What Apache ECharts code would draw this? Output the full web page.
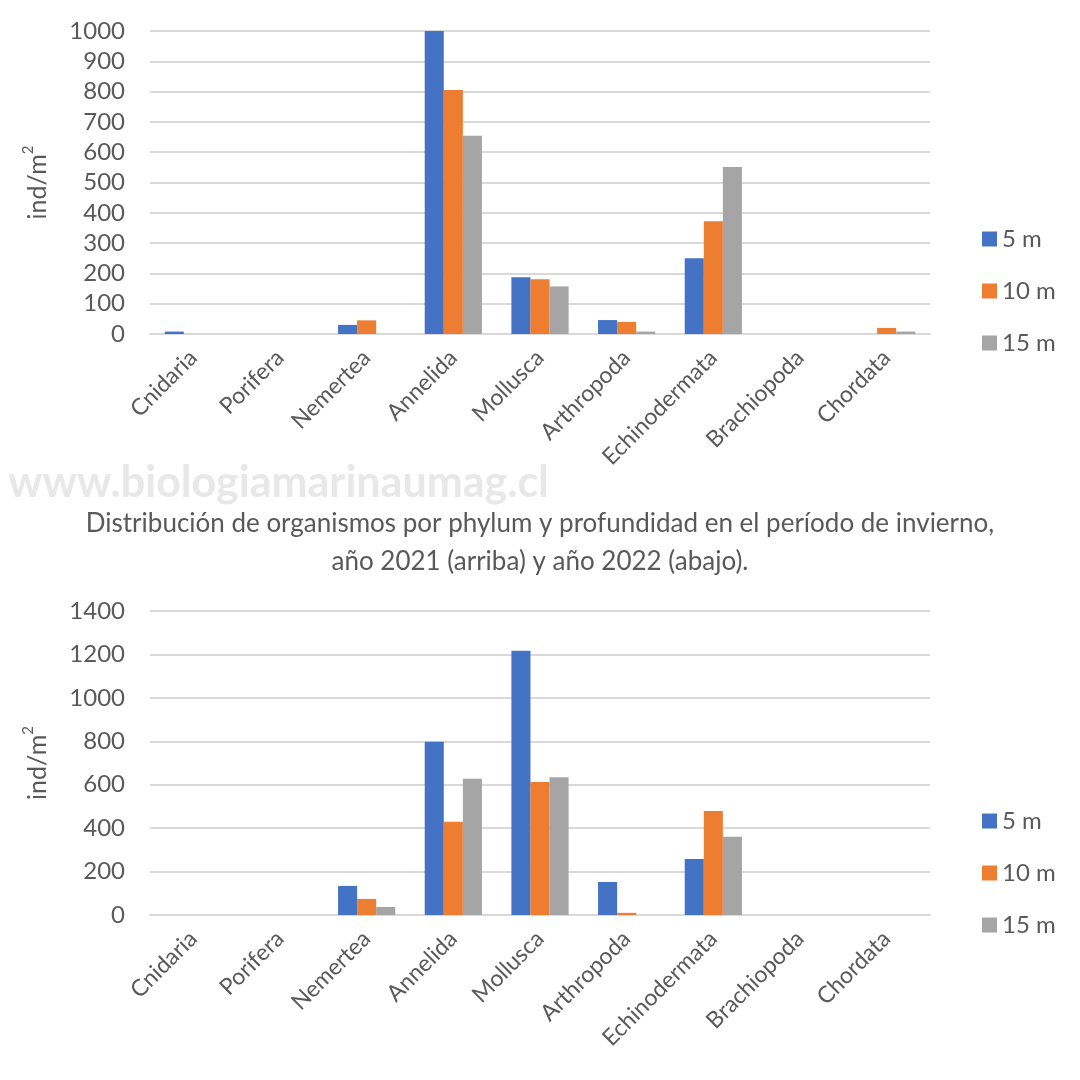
<!DOCTYPE html>
<html>
<head>
<meta charset="utf-8">
<script src="https://cdn.jsdelivr.net/npm/echarts@6/dist/echarts.min.js"></script>
<style>html,body{margin:0;padding:0;background:#fff}#c{width:1080px;height:1080px}</style>
</head>
<body>
<div id="c"></div>
<script>
const categories = ['Cnidaria','Porifera','Nemertea','Annelida','Mollusca','Arthropoda','Echinodermata','Brachiopoda','Chordata'];
const seriesNames = ['5 m','10 m','15 m'];
const top5m  = [8, 0, 30, 1000, 187, 46, 250, 0, 0];
const top10m = [0, 0, 45, 805, 181, 40, 372, 0, 20];
const top15m = [0, 0, 0, 654, 157, 8, 551, 0, 8];
const bot5m  = [0, 0, 134, 798, 1217, 152, 258, 0, 0];
const bot10m = [0, 0, 74, 430, 613, 10, 479, 0, 0];
const bot15m = [0, 0, 37, 628, 634, 0, 360, 0, 0];
const colors = ['#4472C4','#ED7D31','#A5A5A5'];
const watermark = 'www.biologiamarinaumag.cl';
const captionLines = ['Distribución de organismos por phylum y profundidad en el período de invierno,', 'año 2021 (arriba) y año 2022 (abajo).'];
const yNameBase = 'ind/m';
const yNameSup = '2';

const FONT = 'Lato';
const txt = '#595959';
const chart = echarts.init(document.getElementById('c'));

function xAxis(gi){
  return {
    type:'category', gridIndex:gi, data:categories,
    axisLine:{show:true, lineStyle:{color:'#d9d9d9', width:2}},
    axisTick:{show:false},
    axisLabel:{rotate:45, color:txt, fontSize:23, fontFamily:FONT, margin:20, interval:0}
  };
}
function yAxis(gi, max, interval){
  return {
    type:'value', gridIndex:gi, min:0, max:max, interval:interval,
    name:'{b|' + yNameBase + '}{s|' + yNameSup + '}', nameLocation:'middle', nameGap:100, nameRotate:90,
    nameTextStyle:{color:txt, fontFamily:FONT, rich:{
      b:{fontSize:25, color:txt, fontFamily:FONT, verticalAlign:'bottom'},
      s:{fontSize:15, color:txt, fontFamily:FONT, verticalAlign:'top', padding:[0,0,14,0]}
    }},
    axisLine:{show:false}, axisTick:{show:false},
    axisLabel:{color:txt, fontSize:24, fontFamily:FONT, margin:25, formatter:(v)=>String(v)},
    splitLine:{lineStyle:{color:'#d9d9d9', width:2}}
  };
}
function bars(gi, arrs){
  return arrs.map((d,i)=>({
    type:'bar', name:seriesNames[i], xAxisIndex:gi, yAxisIndex:gi, data:d,
    itemStyle:{color:colors[i]}, barGap:'0%', barCategoryGap:'34%'
  }));
}
function legend(top){
  return {
    orient:'vertical', left:977, top:top, itemWidth:15, itemHeight:15, itemGap:28,
    icon:'rect', data:seriesNames,
    textStyle:{color:txt, fontSize:24, fontFamily:FONT}
  };
}

chart.setOption({
  backgroundColor:'#fff',
  animation:false,
  grid:[
    {left:150, right:150, top:31, height:303},
    {left:150, right:150, top:611, height:304}
  ],
  xAxis:[xAxis(0), xAxis(1)],
  yAxis:[yAxis(0,1000,100), yAxis(1,1400,200)],
  legend:[legend(222), legend(804)],
  series:[...bars(0,[top5m,top10m,top15m]), ...bars(1,[bot5m,bot10m,bot15m])],
  graphic:[
    {type:'text', left:8, top:462, style:{text:watermark, fill:'#e8e8e8', font:'bold 43px '+FONT}},
    {type:'text', left:'center', top:511, style:{text:captionLines[0], fill:txt, font:'26px '+FONT, textAlign:'center'}},
    {type:'text', left:'center', top:549, style:{text:captionLines[1], fill:txt, font:'26px '+FONT, textAlign:'center'}}
  ]
});
</script>
</body>
</html>
